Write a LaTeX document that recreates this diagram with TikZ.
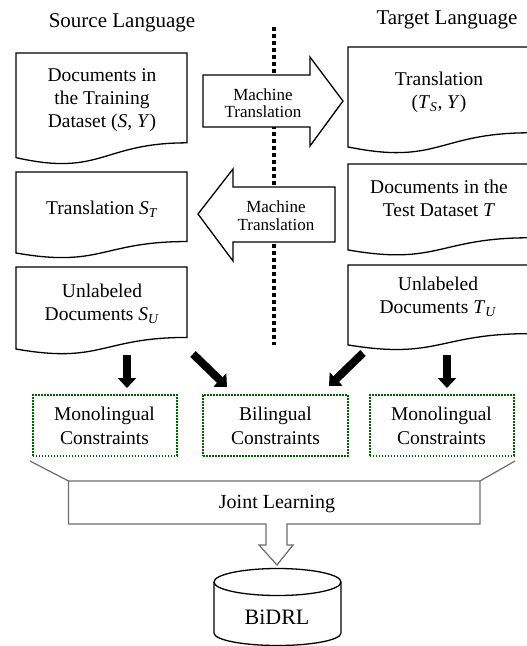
\documentclass[tikz,border=0pt]{standalone}
\usepackage{fontspec}
\setmainfont{Liberation Serif}
\usetikzlibrary{arrows.meta}
\newcommand{\isub}[1]{\textsubscript{\textit{#1}}}
\newcommand{\docbox}[4]{%
  \pgfmathsetmacro{\dbmid}{(#1+#2)/2}%
  \draw[docline] (#1,#3) -- (#2,#3) -- (#2,{#3+0.802*#4})
    .. controls (\dbmid,{#3+0.802*#4}) and (\dbmid,{#3+1.107*#4}) .. (#1,{#3+0.934*#4}) -- cycle;}
\definecolor{cgreen}{RGB}{0,100,0}
\definecolor{jgrey}{RGB}{110,110,110}
\tikzset{
  docline/.style={draw=black, line width=1.3pt, fill=white},
  doctext/.style={align=center, inner sep=0pt, font=\fontsize{19.5}{23}\selectfont},
  headtext/.style={inner sep=0pt, font=\fontsize{21}{25}\selectfont},
  mttext/.style={align=center, inner sep=0pt, font=\fontsize{17}{17.5}\selectfont},
  blockarrow/.style={draw=black, line width=1.3pt, fill=white, line join=miter},
  cbox/.style={draw=cgreen, line width=2pt, dash pattern=on 1.6pt off 1.4pt, minimum width=144pt, minimum height=61pt, inner sep=0pt, align=center, font=\fontsize{19.5}{24}\selectfont},
  bigarrow/.style={line width=8pt, -{Triangle[width=18pt,length=10pt]}},
  jointline/.style={draw=jgrey, line width=1.2pt, line join=miter},
  sepline/.style={line width=4pt, dash pattern=on 4pt off 3pt},
}
\begin{document}
\begin{tikzpicture}[x=1pt,y=-1pt]
\useasboundingbox (0,0) rectangle (527,646);
\fill[white] (0,0) rectangle (527,646);
\clip (0,0) rectangle (527,646);

% headers
\node[headtext] (srchead) at (122,23) {Source Language};
\node[headtext] (tgthead) at (447,20) {Target Language};

% dotted separator
\coordinate (septop) at (274,27);
\coordinate (sepbot) at (274,345);
\draw[sepline] (septop) -- (sepbot);

% left documents
\docbox{16}{187}{53}{112}
\node[doctext] (srctrain) at (102,100) {Documents in\\the Training\\Dataset (\textit{S}, \textit{Y})};
\docbox{16}{187}{172}{86.7}
\node[doctext] (srctrans) at (102,209) {Translation \textit{S}\isub{T}};
\docbox{16}{187}{267}{87.8}
\node[doctext] (srcunl) at (102,304) {Unlabeled\\Documents \textit{S}\isub{U}};

% right documents
\docbox{348}{529}{47}{107}
\node[doctext] (tgttrans) at (439,92) {Translation\\(\textit{T}\isub{S}, \textit{Y})};
\docbox{348}{529}{164}{92}
\node[doctext] (tgttest) at (439,198.5) {Documents in the\\Test Dataset \textit{T}};
\docbox{348}{529}{265}{85.6}
\node[doctext] (tgtunl) at (438,297) {Unlabeled\\Documents \textit{T}\isub{U}};

% machine translation block arrows
\draw[blockarrow] (203,75) -- (310,75) -- (310,57) -- (343,101) -- (310,146) -- (310,127) -- (203,127) -- cycle;
\node[mttext] (mt1) at (263,103) {Machine\\Translation};
\draw[blockarrow] (335,187) -- (233,187) -- (233,169) -- (198,214) -- (233,261) -- (233,242) -- (335,242) -- cycle;
\node[mttext] (mt2) at (276,215.5) {Machine\\Translation};

% constraint boxes
\node[cbox] (mono1) at (104.5,425.5) {Monolingual\\Constraints};
\node[cbox, minimum width=145pt] (bil) at (275.5,425.5) {Bilingual\\Constraints};
\node[cbox] (mono2) at (441.5,425.5) {Monolingual\\Constraints};

% thick arrows
\coordinate (a1s) at (127,355); \coordinate (a1e) at (127,388);
\coordinate (a2s) at (193,354); \coordinate (a2e) at (227,387);
\coordinate (a3s) at (363,353); \coordinate (a3e) at (329,386);
\coordinate (a4s) at (447,355); \coordinate (a4e) at (447,388);
\draw[bigarrow] (a1s) -- (a1e);
\draw[bigarrow] (a2s) -- (a2e);
\draw[bigarrow] (a3s) -- (a3e);
\draw[bigarrow] (a4s) -- (a4e);

% joint learning shape
\coordinate (jl1) at (30,461);
\coordinate (jl2) at (68.5,481);
\coordinate (jr1) at (515,461);
\coordinate (jr2) at (480,481);
\draw[jointline] (jl1) -- (jl2);
\draw[jointline] (jr1) -- (jr2);
\draw[jointline, fill=white] (jl2) -- (jr2) -- (480,524) -- (287,524) -- (287,545) -- (293,545) -- (277,565) -- (259,545) -- (266,545) -- (266,524) -- (68.5,524) -- cycle;
\node[inner sep=0pt, font=\fontsize{20}{24}\selectfont] (joint) at (277,504) {Joint Learning};

% BiDRL cylinder
\draw[docline] (214,582) -- (214,633) arc[start angle=180, end angle=360, x radius=63.5pt, y radius=12.5pt] -- (341,582);
\draw[docline] (277.5,582) ellipse [x radius=63.5pt, y radius=13.5pt];
\node[inner sep=0pt, font=\fontsize{22}{26}\selectfont] (bidrl) at (277,617) {BiDRL};
\end{tikzpicture}
\end{document}
